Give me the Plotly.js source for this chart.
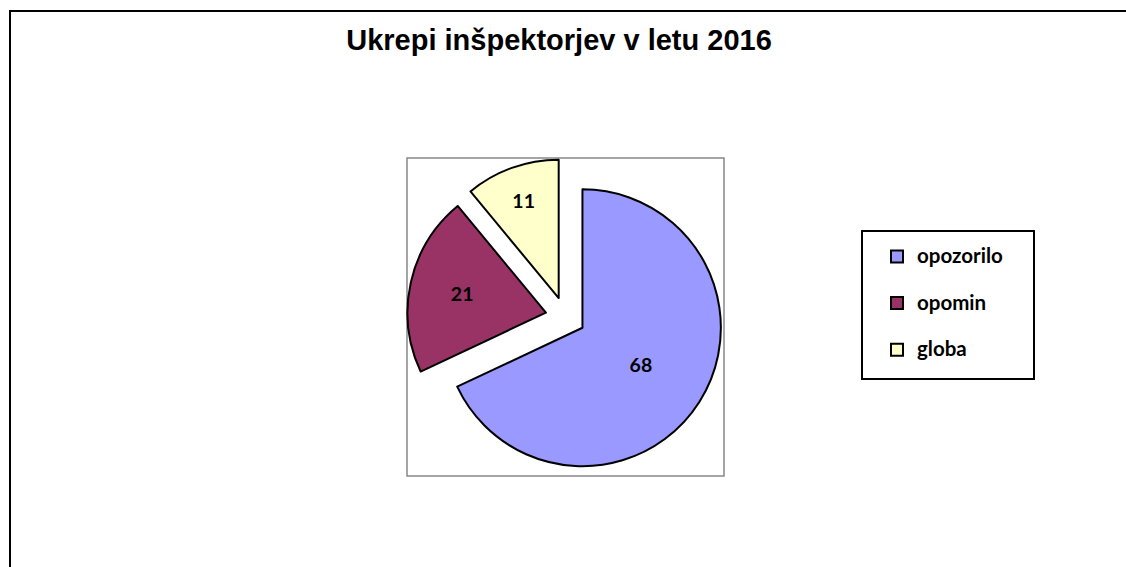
<!DOCTYPE html>
<html><head><meta charset="utf-8">
<script src="https://cdn.plot.ly/plotly-3.0.1.min.js"></script>
<style>html,body{margin:0;padding:0;background:#fff;}#chart{width:1126px;height:567px;}</style>
</head><body><div id="chart"></div>
<script>
const categories = ['opozorilo', 'opomin', 'globa'];
const values = [68, 21, 11];
const colors = ['#9999FF', '#993366', '#FFFFCC'];
const chartTitle = 'Ukrepi inšpektorjev v letu 2016';

const W = 1126, H = 567;
const px = x => x / W, py = y => 1 - y / H;

const legendLabels = categories.map(c => '<span style="font-size:20.5px">' + c + '</span><br>&nbsp;');

const trace = {
  type: 'pie',
  labels: legendLabels,
  values: values,
  sort: false,
  direction: 'clockwise',
  rotation: 0,
  pull: [0.145, 0.145, 0.145],
  marker: { colors: colors, line: { color: '#000000', width: 2 } },
  textinfo: 'value',
  textposition: 'inside',
  insidetextorientation: 'horizontal',
  textfont: { family: 'Lato, Open Sans, sans-serif', size: 19.5, color: '#000000', weight: 'bold' },
  hoverinfo: 'value+percent',
  domain: { x: [px(407), px(724)], y: [py(476), py(158)] }
};

const layout = {
  width: W, height: H,
  margin: { l: 0, r: 0, t: 0, b: 0 },
  paper_bgcolor: '#ffffff',
  title: {
    text: '<b>' + chartTitle + '</b>',
    font: { family: 'Liberation Sans, Arial, sans-serif', size: 29, color: '#000000' },
    x: px(559), xanchor: 'center', xref: 'paper',
    y: py(40), yanchor: 'middle', yref: 'container'
  },
  showlegend: true,
  legend: {
    x: px(877), xanchor: 'left', y: py(239), yanchor: 'top',
    borderwidth: 0, bgcolor: 'rgba(0,0,0,0)',
    valign: 'top',
    font: { family: 'Lato, Open Sans, sans-serif', size: 16.8, color: '#000000', weight: 'bold' },
    itemwidth: 30
  },
  shapes: [
    { type: 'rect', xref: 'paper', yref: 'paper', x0: px(407), x1: px(724), y0: py(476), y1: py(158),
      line: { color: '#888888', width: 1.5 }, layer: 'below' },
    { type: 'rect', xref: 'paper', yref: 'paper', x0: px(862), x1: px(1034), y0: py(379), y1: py(231),
      line: { color: '#000000', width: 2 }, fillcolor: 'rgba(0,0,0,0)', layer: 'below' },
    { type: 'rect', xref: 'paper', yref: 'paper', x0: px(10), x1: px(1140), y0: py(580), y1: py(11),
      line: { color: '#000000', width: 2 }, layer: 'above' }
  ]
};

Plotly.newPlot('chart', [trace], layout, { displayModeBar: false, staticPlot: true });
</script></body></html>
